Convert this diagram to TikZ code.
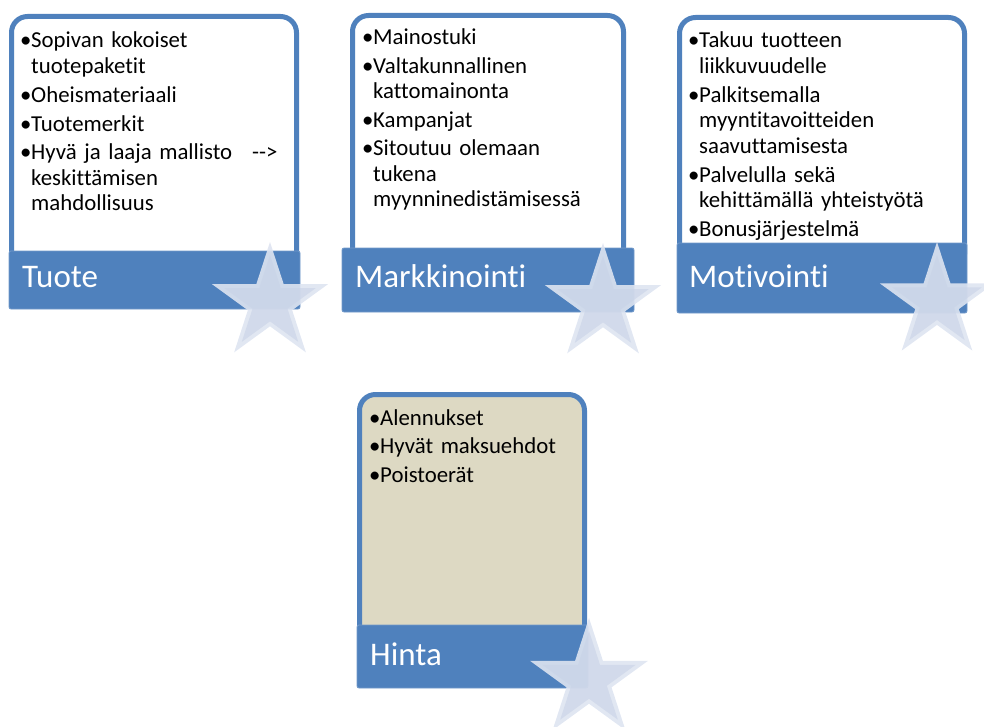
\documentclass[tikz,border=0pt]{standalone}
\usepackage{fontspec}
\setmainfont{Carlito}[Ligatures=NoCommon]
\usetikzlibrary{shapes.geometric}
\definecolor{tblue}{RGB}{79,129,189}
\definecolor{ttan}{RGB}{221,217,195}
\definecolor{rimcol}{RGB}{222,228,241}
\definecolor{corecol}{RGB}{200,210,230}
\newcommand{\bul}{\makebox[11pt][l]{•}}
\newcommand{\ind}{\hspace*{11pt}}
\begin{document}
\begin{tikzpicture}[x=1pt, y=-1pt, every node/.style={inner sep=0pt},
	boxframe/.style={draw=tblue, line width=5pt, rounded corners=16pt, fill=white},
	labelbar/.style={fill=tblue, draw=tblue!80!white, line width=.8pt, rounded corners=2pt},
	bullets/.style={anchor=base west, text width=#1, align=left, font=\fontsize{22.8}{25.5}\selectfont},
	labeltext/.style={anchor=base west, text=white, font=\fontsize{33}{36}\selectfont},
	starrim/.style={star, star points=5, star point ratio=2.618, fill=rimcol, fill opacity=.9, minimum size=#1},
	starcore/.style={star, star points=5, star point ratio=2.618, fill=corecol, fill opacity=.6, minimum size=#1}]
	\useasboundingbox (0,0) rectangle (984,727);
	% Tuote
	\node[boxframe, minimum width=285, minimum height=253.5] (f1) at (154,143.25) {};
	\node[bullets=270pt] (i1) at (20,48) {\bul Sopivan kokoiset\\ \ind tuotepaketit\\[3.3pt]
		\bul Oheismateriaali\\[3.3pt] \bul Tuotemerkit\\[3.3pt]
		\bul Hyvä ja laaja mallisto\hspace{20pt}-{}-{}>\\ \ind keskittämisen\\ \ind mahdollisuus};
	\node[labelbar, minimum width=291, minimum height=58] (b1) at (154.5,280) {};
	\node[labeltext] (l1) at (22,287) {Tuote};
	\node[starrim=122] (s1) at (270,303) {};
	\node[starcore=96] (c1) at (270,303) {};
	% Markkinointi
	\node[boxframe, minimum width=271, minimum height=254.5] (f2) at (488,142.75) {};
	\node[bullets=260pt] (i2) at (362,45) {\bul Mainostuki\\[3pt] \bul Valtakunnallinen\\ \ind kattomainonta\\[3pt]
		\bul Kampanjat\\[3pt] \bul Sitoutuu olemaan\\ \ind tukena\\ \ind myynninedistämisessä};
	\node[labelbar, minimum width=292, minimum height=64] (b2) at (488,280) {};
	\node[labeltext] (l2) at (355,287) {Markkinointi};
	\node[starrim=122] (s2) at (603,304) {};
	\node[starcore=96] (c2) at (603,304) {};
	% Motivointi
	\node[boxframe, minimum width=285, minimum height=252.5] (f3) at (822,143.75) {};
	\node[bullets=275pt] (i3) at (688,48) {\bul Takuu tuotteen\\ \ind liikkuvuudelle\\[3.3pt]
		\bul Palkitsemalla\\ \ind myyntitavoitteiden\\ \ind saavuttamisesta\\[3.3pt]
		\bul Palvelulla sekä\\ \ind kehittämällä yhteistyötä\\[3.3pt] \bul Bonusjärjestelmä};
	\node[labelbar, minimum width=290, minimum height=70] (b3) at (822,278) {};
	\node[labeltext] (l3) at (689,287) {Motivointi};
	\node[starrim=120] (s3) at (937,302) {};
	\node[starcore=94] (c3) at (937,302) {};
	% Hinta
	\node[boxframe, fill=ttan, minimum width=225, minimum height=255.5] (f4) at (472,522.25) {};
	\node[bullets=210pt] (i4) at (369,425) {\bul Alennukset\\[3pt] \bul Hyvät maksuehdot\\[3pt] \bul Poistoerät};
	\node[labelbar, minimum width=231, minimum height=63] (b4) at (472.5,656.5) {};
	\node[labeltext] (l4) at (370,665) {Hinta};
	\node[starrim=124] (s4) at (589,680) {};
	\node[starcore=98] (c4) at (589,680) {};
\end{tikzpicture}
\end{document}
